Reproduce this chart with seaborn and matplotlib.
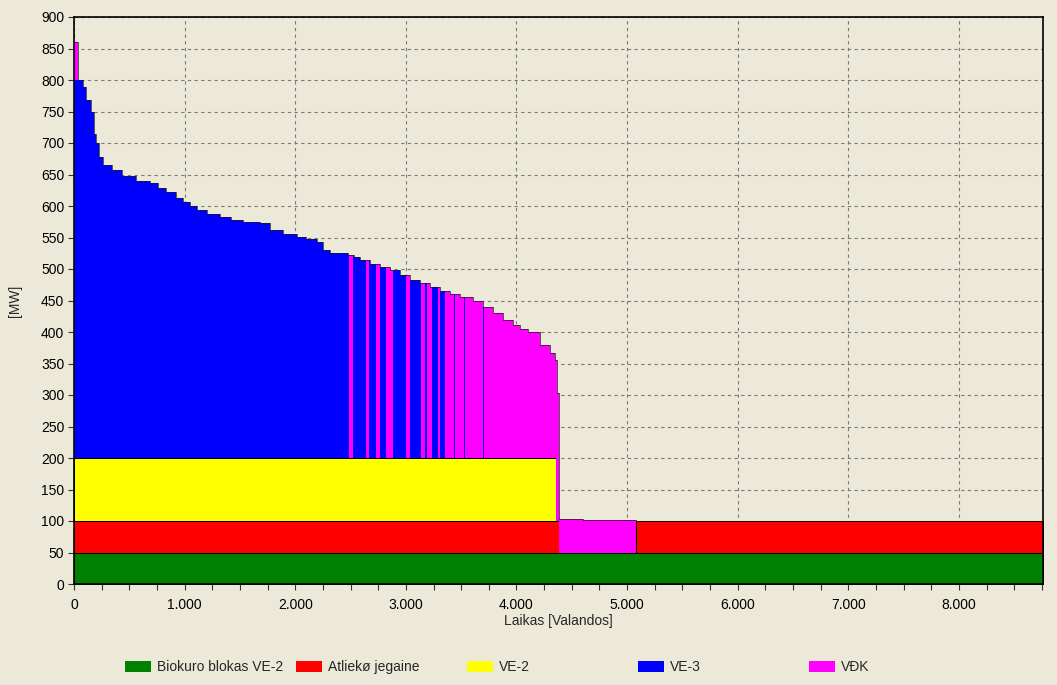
import numpy as np
import matplotlib
matplotlib.use('Agg')
import matplotlib.pyplot as plt
from matplotlib.ticker import FuncFormatter, MultipleLocator
from matplotlib.patches import Patch
import seaborn as sns

# load duration curve (step, value holds from hour until next hour)
load_hours = [0, 32, 77, 113, 158, 185, 203, 230, 258, 348, 438, 560, 683, 760, 836, 920,
              981, 1050, 1108, 1200, 1316, 1420, 1524, 1677, 1768, 1885, 2012, 2100, 2193,
              2247, 2310, 2474, 2530, 2582, 2672, 2763, 2853, 2944, 3034, 3124, 3214, 3305,
              3395, 3486, 3603, 3693, 3784, 3874, 3965, 4030, 4100, 4209, 4299, 4345, 4362,
              4380, 4600, 5080]
load_mw = [860, 800, 789, 768, 749, 715, 700, 678, 665, 657, 648, 640, 636, 628, 622, 613,
           606, 600, 594, 588, 583, 578, 575, 573, 562, 556, 551, 547, 543,
           530, 525, 522, 519, 514, 508, 503, 498, 490, 483, 478, 472, 465,
           460, 456, 449, 440, 430, 419, 411, 405, 400, 379, 367, 356, 303,
           103, 101, 100]
year_end = 8760

# units
biokuro_mw = 50
atlieku_mw = 50
atlieku_off = (4380, 5080)
ve2_mw = 100
ve2_end = 4353
ve3_max = 600
# hours where VDK covers the load above VE-2 instead of VE-3
vdk_from = [2482, 2636, 2726, 2817, 2997, 3133, 3187, 3287, 3350, 3445, 3537, 3707]
vdk_to = [2518, 2663, 2762, 2880, 3042, 3169, 3232, 3305, 3435, 3527, 3697, 4353]

labels = ['Biokuro blokas VE-2', 'Atliekø jegaine', 'VE-2', 'VE-3', 'VĐK']
colors = ['#008000', '#FF0000', '#FFFF00', '#0000FF', '#FF00FF']

x = np.array(sorted(set(load_hours + vdk_from + vdk_to + [ve2_end, *atlieku_off, year_end])))
idx = np.searchsorted(load_hours, x, side='right') - 1
load = np.array(load_mw, dtype=float)[idx]

bio = np.full(len(x), biokuro_mw, dtype=float)
atl = np.where((x >= atlieku_off[0]) & (x < atlieku_off[1]), 0.0, atlieku_mw)
ve2 = np.where(x < ve2_end, ve2_mw, 0.0)
in_vdk = np.zeros(len(x), dtype=bool)
for a, b in zip(vdk_from, vdk_to):
    in_vdk |= (x >= a) & (x < b)
rest = np.clip(load - bio - atl - ve2, 0, None)
ve3 = np.where(in_vdk | (x >= ve2_end), 0.0, np.minimum(rest, ve3_max))
vdk = rest - ve3

bg = '#ECE9D8'
sns.set_style('ticks', {'axes.facecolor': bg, 'figure.facecolor': bg})
plt.rcParams['font.family'] = ['Liberation Sans', 'DejaVu Sans']
plt.rcParams['font.size'] = 10

fig = plt.figure(figsize=(10.57, 6.85), dpi=100)
ax = fig.add_axes([74 / 1057, 1 - 584 / 685, 969 / 1057, 567 / 685])

bottom = np.zeros(len(x))
layers = [bio, atl, ve2, ve3, vdk]
for i, (vals, col) in enumerate(zip(layers, colors)):
    top = bottom + vals
    edge = 'black' if i < 3 else 'none'
    ax.fill_between(x, bottom, top, step='post', facecolor=col, edgecolor=edge,
                    linewidth=0.7 if i < 3 else 0, zorder=2)
    bottom = top

# total load outline
sns.lineplot(x=x, y=bottom, drawstyle='steps-post', color='#1a1a1a', linewidth=0.5,
             ax=ax, zorder=3, legend=False)

ax.set_xlim(0, year_end)
ax.set_ylim(0, 900)
ax.xaxis.set_major_locator(MultipleLocator(1000))
ax.xaxis.set_minor_locator(MultipleLocator(250))
ax.yaxis.set_major_locator(MultipleLocator(50))
ax.xaxis.set_major_formatter(FuncFormatter(lambda v, p: f'{int(v):,}'.replace(',', '.')))
ax.tick_params(axis='x', which='both', direction='out', length=4, width=0.8, pad=6, colors='#333333',
               labelcolor='black')
ax.tick_params(axis='y', which='both', direction='out', length=4, width=0.8, pad=3, colors='#333333',
               labelcolor='black')
ax.grid(True, which='major', color='#7a7a7a', linestyle=(0, (3, 3)), linewidth=0.8, zorder=1)
ax.set_axisbelow(True)
for s in ax.spines.values():
    s.set_visible(True)
    s.set_color('black')
    s.set_linewidth(1.2)
    s.set_zorder(4)

ax.set_xlabel('Laikas [Valandos]')
ax.set_ylabel('[MW]')
ax.xaxis.set_label_coords(0.5, -0.053)
ax.xaxis.label.set_va('top')
ax.yaxis.set_label_coords(-0.054, 0.5)

leg_x = [125, 296, 467, 638, 809]
for lx, lab, col in zip(leg_x, labels, colors):
    fig.legend(handles=[Patch(facecolor=col, edgecolor='none')], labels=[lab],
               loc='center left', bbox_to_anchor=(lx / 1057, 1 - 667 / 685),
               frameon=False, borderpad=0, borderaxespad=0, handlelength=1.84,
               handleheight=0.86, handletextpad=0.45, fontsize=10)

fig.savefig('out.png', dpi=100, facecolor=bg)
